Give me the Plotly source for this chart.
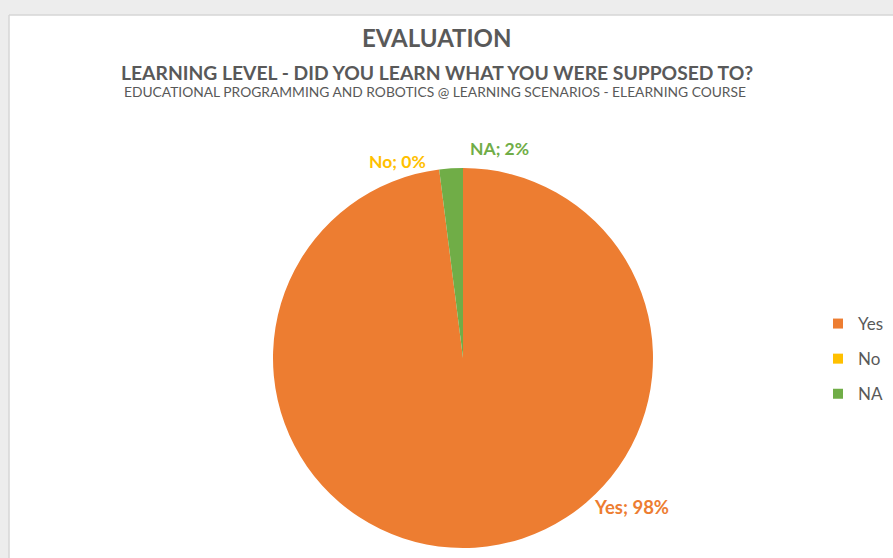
import plotly.graph_objects as go

categories = ["Yes", "No", "NA"]
values = [98, 0, 2]
colors = ["#ED7D31", "#FFC000", "#70AD47"]
title = "EVALUATION"
subtitle1 = "LEARNING LEVEL - DID YOU LEARN WHAT YOU WERE SUPPOSED TO?"
subtitle2 = "EDUCATIONAL PROGRAMMING AND ROBOTICS @ LEARNING SCENARIOS - ELEARNING COURSE"

W, H = 893, 558
FONT = "Lato, Roboto, sans-serif"

total = sum(values)
pct = [round(v * 100 / total) for v in values]

fig = go.Figure()
fig.add_trace(go.Pie(
    labels=categories, values=values, sort=False, direction="clockwise",
    rotation=0, marker=dict(colors=colors, line=dict(width=0)),
    textinfo="none", hoverinfo="label+percent",
    domain=dict(x=[(463 - 190) / W, (463 + 190) / W], y=[1 - 548 / H, 1 - 168 / H]),
    showlegend=False,
))

# legend entries (built from the same categories/colours)
for i, (c, col) in enumerate(zip(categories, colors)):
    fig.add_trace(go.Scatter(
        x=[None], y=[None], mode="markers", name=c, legendgroup=f"g{i}",
        marker=dict(symbol="square", size=10, color=col, line=dict(width=0)),
        showlegend=True, hoverinfo="skip",
    ))

# label positions (pixels) and sizes for each category's data label
label_pos = {"Yes": (631, 507), "No": (397, 161), "NA": (499, 148)}
label_size = {"Yes": 18.5, "No": 17.5, "NA": 17.5}
annotations = []
for c, p, col in zip(categories, pct, colors):
    px, py = label_pos[c]
    annotations.append(dict(x=px / W, y=1 - py / H, xref="paper", yref="paper",
                            text=f"<b>{c}; {p}%</b>", showarrow=False,
                            font=dict(family=FONT, size=label_size[c], color=col),
                            xanchor="center", yanchor="middle"))

annotations += [
    dict(x=437 / W, y=1 - 37 / H, xref="paper", yref="paper", text=f"<b>{title}</b>",
         showarrow=False, font=dict(family=FONT, size=24, color="#595959"),
         xanchor="center", yanchor="middle"),
    dict(x=437 / W, y=1 - 72 / H, xref="paper", yref="paper", text=f"<b>{subtitle1}</b>",
         showarrow=False, font=dict(family=FONT, size=19.3, color="#595959"),
         xanchor="center", yanchor="middle"),
    dict(x=435 / W, y=1 - 91 / H, xref="paper", yref="paper", text=subtitle2,
         showarrow=False, font=dict(family=FONT, size=13.8, color="#595959"),
         xanchor="center", yanchor="middle"),
]

shapes = [
    dict(type="rect", xref="paper", yref="paper", x0=0, x1=1, y0=1 - 15 / H, y1=1,
         fillcolor="#ededed", line=dict(width=0), layer="below"),
    dict(type="rect", xref="paper", yref="paper", x0=0, x1=9 / W, y0=0, y1=1,
         fillcolor="#ededed", line=dict(width=0), layer="below"),
    dict(type="line", xref="paper", yref="paper", x0=9 / W, x1=1, y0=1 - 15 / H, y1=1 - 15 / H,
         line=dict(color="#d6d6d6", width=1.5), layer="below"),
    dict(type="line", xref="paper", yref="paper", x0=9 / W, x1=9 / W, y0=0, y1=1 - 15 / H,
         line=dict(color="#d6d6d6", width=1.5), layer="below"),
]

fig.update_layout(
    width=W, height=H, margin=dict(l=0, r=0, t=0, b=0, autoexpand=False),
    paper_bgcolor="white", plot_bgcolor="rgba(0,0,0,0)",
    xaxis=dict(visible=False), yaxis=dict(visible=False),
    annotations=annotations, shapes=shapes,
    legend=dict(x=818 / W, y=1 - 359 / H, xanchor="left", yanchor="middle",
                font=dict(family=FONT, size=17, color="#595959"),
                bgcolor="rgba(0,0,0,0)", itemwidth=30, tracegroupgap=10,
                traceorder="grouped"),
)

fig.write_html("out.html")
